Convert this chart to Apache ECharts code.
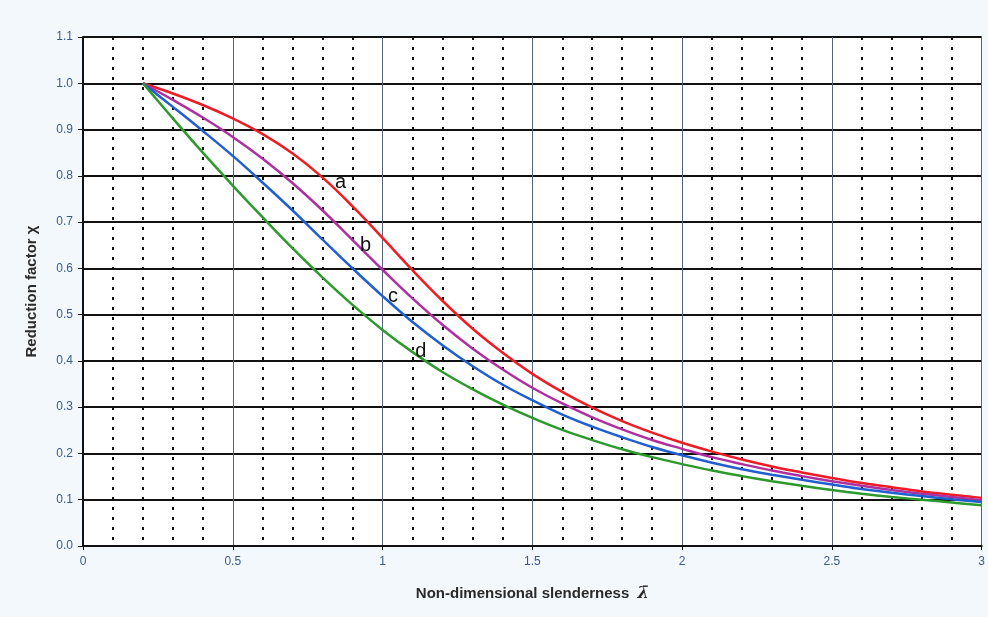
<!DOCTYPE html>
<html>
<head>
<meta charset="utf-8">
<title>Buckling curves</title>
<script src="https://cdn.jsdelivr.net/npm/echarts@6/dist/echarts.min.js"></script>
<style>
  html, body { margin: 0; padding: 0; background: #f3f8fc; }
  #chart { width: 988px; height: 617px; }
</style>
</head>
<body>
<div id="chart"></div>
<script>
// slenderness values (x) and reduction factor
const lambdas = [0.2, 0.3, 0.4, 0.5, 0.6, 0.7, 0.8, 0.9, 1.0, 1.1, 1.2, 1.3, 1.4, 1.5,
  1.6, 1.7, 1.8, 1.9, 2.0, 2.1, 2.2, 2.3, 2.4, 2.5, 2.6, 2.7, 2.8, 2.9, 3.0];

const curveA = [1.0, 0.978, 0.953, 0.924, 0.890, 0.848, 0.796, 0.734, 0.666, 0.596, 0.530, 0.470, 0.418, 0.372,
  0.333, 0.299, 0.270, 0.245, 0.223, 0.204, 0.187, 0.172, 0.159, 0.147, 0.136, 0.127, 0.118, 0.111, 0.104];
const curveB = [1.0, 0.964, 0.926, 0.884, 0.837, 0.784, 0.725, 0.661, 0.597, 0.535, 0.478, 0.427, 0.382, 0.342,
  0.308, 0.278, 0.252, 0.229, 0.210, 0.192, 0.177, 0.163, 0.151, 0.140, 0.130, 0.121, 0.113, 0.106, 0.099];
const curveC = [1.0, 0.949, 0.897, 0.843, 0.785, 0.725, 0.662, 0.600, 0.540, 0.484, 0.434, 0.389, 0.349, 0.315,
  0.284, 0.258, 0.235, 0.214, 0.196, 0.180, 0.166, 0.154, 0.143, 0.133, 0.123, 0.115, 0.108, 0.101, 0.095];
const curveD = [1.0, 0.924, 0.850, 0.779, 0.710, 0.643, 0.580, 0.521, 0.467, 0.419, 0.376, 0.339, 0.306, 0.277,
  0.251, 0.229, 0.209, 0.192, 0.177, 0.163, 0.151, 0.140, 0.130, 0.121, 0.113, 0.106, 0.100, 0.094, 0.088];

const curveNames = ["a", "b", "c", "d"];
// where the letters sit beside the curves
const curveLabelPos = [[0.86, 0.785], [0.943, 0.65], [1.035, 0.54], [1.128, 0.42]];

const colors = ["#ee1c24", "#b02fa0", "#1f5fd0", "#2c9a2c"];
const font = "'Liberation Sans', Arial, sans-serif";

const chart = echarts.init(document.getElementById("chart"));

const toPairs = vals => lambdas.map((x, i) => [x, vals[i]]);

const lineSeries = [curveA, curveB, curveC, curveD].map((vals, i) => {
  return {
    name: curveNames[i],
    type: "line",
    data: toPairs(vals),
    symbol: "none",
    smooth: 0.4,
    z: 5,
    lineStyle: { color: colors[i], width: 2.5 }
  };
});

const option = {
  animation: false,
  backgroundColor: "#f3f8fc",
  grid: {
    left: 83, right: 6, top: 37, bottom: 71,
    show: true,
    backgroundColor: "#ffffff",
    borderWidth: 0
  },
  xAxis: {
    type: "value",
    min: 0, max: 3, interval: 0.5,
    name: "Non-dimensional slenderness  {l|λ̄}",
    nameLocation: "middle",
    nameGap: 40,
    nameTextStyle: {
      color: "#2a2a2a", fontFamily: font, fontWeight: "bold", fontSize: 15,
      rich: { l: { fontFamily: "DejaVu Serif", fontStyle: "italic", fontWeight: "bold", fontSize: 16, color: "#2a2a2a" } }
    },
    axisLine: { show: true, lineStyle: { color: "#111", width: 2 } },
    axisTick: { show: true, length: 4, lineStyle: { color: "#111" } },
    axisLabel: { color: "#3a5a8c", fontFamily: font, fontSize: 12, margin: 10 },
    splitLine: { show: true, lineStyle: { color: "#55627a", width: 1 } },
    minorTick: { show: false, splitNumber: 5 },
    minorSplitLine: { show: true, lineStyle: { color: "#111", width: 2, type: [3, 7] } }
  },
  yAxis: {
    type: "value",
    min: 0, max: 1.1, interval: 0.1,
    name: "Reduction factor χ",
    nameLocation: "middle",
    nameGap: 44,
    nameTextStyle: { color: "#2a2a2a", fontFamily: font, fontWeight: "bold", fontSize: 15 },
    axisLine: { show: true, lineStyle: { color: "#111", width: 2 } },
    axisTick: { show: true, length: 5, lineStyle: { color: "#111" } },
    axisLabel: {
      color: "#3a5a8c", fontFamily: font, fontSize: 12, margin: 10,
      formatter: v => v.toFixed(1)
    },
    splitLine: { show: true, lineStyle: { color: "#111", width: 1.8 } }
  },
  series: lineSeries.concat([
    {
      type: "scatter",
      data: curveLabelPos.map((p, i) => ({ value: p, name: curveNames[i] })),
      symbolSize: 1,
      itemStyle: { color: "rgba(0,0,0,0)", opacity: 1 },
      z: 6,
      label: {
        show: true, position: "inside", formatter: "{b}",
        color: "#111", textBorderWidth: 0,
        fontFamily: font, fontSize: 20
      }
    }
  ])
};

chart.setOption(option);
</script>
</body>
</html>
